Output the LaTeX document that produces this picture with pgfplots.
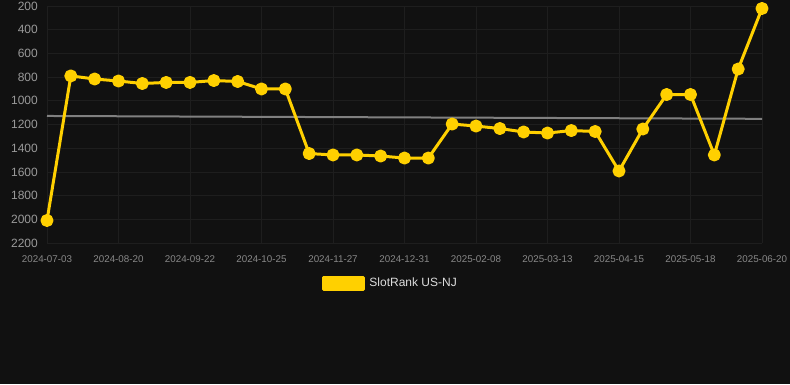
\documentclass[border=0pt]{standalone}
\usepackage{fontspec}
\setmainfont{Liberation Sans}
\usepackage{pgfplots}
\pgfplotsset{compat=1.18}
\definecolor{bg}{HTML}{111111}
\definecolor{gridc}{HTML}{1E1E1E}
\definecolor{yel}{HTML}{FFD000}
\definecolor{trend}{HTML}{808080}
\definecolor{ylab}{HTML}{9A9A9A}
\definecolor{xlab}{HTML}{888888}
\definecolor{legtext}{HTML}{DDDDDD}
\begin{document}
\begin{tikzpicture}[x=1pt,y=1pt]
\fill[bg] (0,0) rectangle (790,384);
\useasboundingbox (0,0) rectangle (790,384);
\begin{axis}[
  at={(47pt,141pt)}, anchor=south west,
  scale only axis, width=715pt, height=237pt,
  xmin=0, xmax=30, ymin=200, ymax=2200,
  y dir=reverse,
  xtick={0,3,...,30},
  xticklabels={2024-07-03,2024-08-20,2024-09-22,2024-10-25,2024-11-27,2024-12-31,2025-02-08,2025-03-13,2025-04-15,2025-05-18,2025-06-20},
  ytick={200,400,...,2200},
  /pgf/number format/assume math mode=true,
  /pgf/number format/1000 sep={},
  grid=major,
  major grid style={gridc, line width=0.8pt},
  axis line style={draw=none},
  major tick length=0pt,
  yticklabel style={font=\fontsize{12}{14}\selectfont, text=ylab, inner sep=0pt, xshift=-9pt},
  xticklabel style={font=\fontsize{9.8}{12}\selectfont, text=xlab, inner sep=0pt, yshift=-12pt},
  legend style={at={(axis description cs:0.482,-0.169)}, anchor=center, draw=none, fill=none,
    font=\fontsize{12}{14}\selectfont, text=legtext, inner sep=2pt,
    nodes={inner xsep=4pt}},
  legend cell align=left,
  clip=false,
]
\addplot[trend, line width=2pt, forget plot] coordinates {(0,1128) (30,1152)};
\addplot[yel, line width=3pt, line join=round, mark=*, mark size=5pt, mark options={fill=yel, draw=none},
  legend image code/.code={\fill[yel] (0pt,-6pt) rectangle (40pt,6pt);}] coordinates {
(0,2010) (1,790) (2,816) (3,833) (4,854) (5,845) (6,845) (7,829) (8,837) (9,900)
(10,900) (11,1445) (12,1457) (13,1457) (14,1466) (15,1483) (16,1483) (17,1196) (18,1213) (19,1234)
(20,1263) (21,1272) (22,1251) (23,1259) (24,1592) (25,1238) (26,947) (27,947) (28,1457) (29,732)
(30,221)};
\addlegendentry{SlotRank US-NJ}
\end{axis}
\end{tikzpicture}
\end{document}
